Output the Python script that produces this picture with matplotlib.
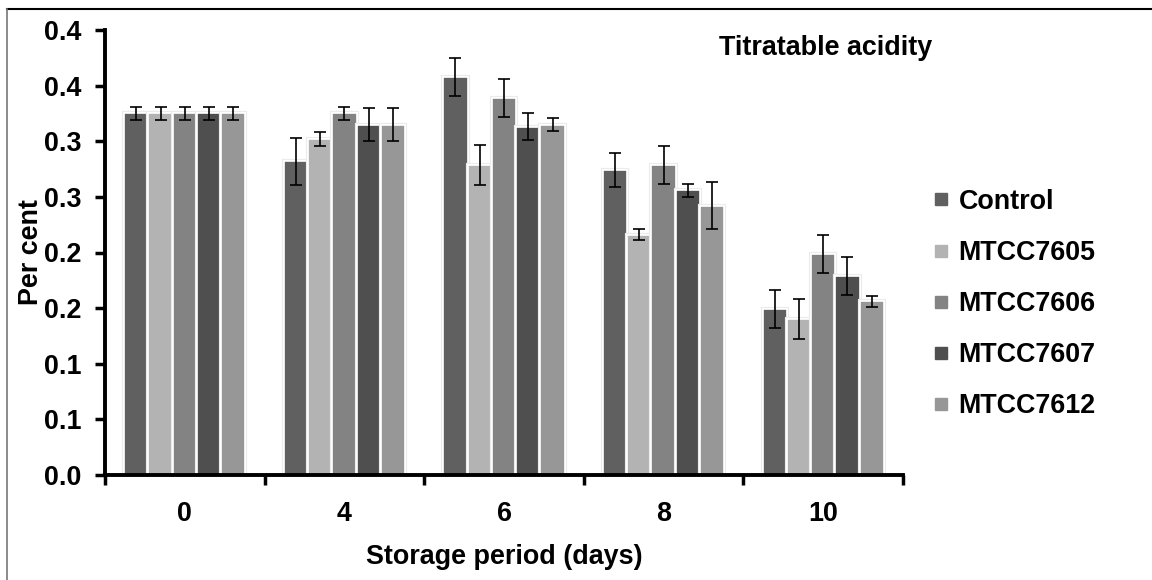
import matplotlib
matplotlib.use("Agg")
import matplotlib.pyplot as plt
import matplotlib.patheffects as pe
from matplotlib import font_manager
from matplotlib.lines import Line2D
import numpy as np

days = ["0", "4", "6", "8", "10"]
series = ["Control", "MTCC7605", "MTCC7606", "MTCC7607", "MTCC7612"]
control = [0.325, 0.282, 0.358, 0.274, 0.149]
mtcc7605 = [0.325, 0.302, 0.279, 0.216, 0.140]
mtcc7606 = [0.325, 0.325, 0.339, 0.279, 0.199]
mtcc7607 = [0.325, 0.315, 0.313, 0.256, 0.179]
mtcc7612 = [0.325, 0.315, 0.315, 0.242, 0.156]
err_control = [0.006, 0.021, 0.017, 0.015, 0.017]
err_7605 = [0.006, 0.006, 0.018, 0.005, 0.018]
err_7606 = [0.006, 0.006, 0.017, 0.017, 0.017]
err_7607 = [0.006, 0.015, 0.012, 0.006, 0.017]
err_7612 = [0.006, 0.015, 0.006, 0.021, 0.005]
yticks = [0.0, 0.05, 0.10, 0.15, 0.20, 0.25, 0.30, 0.35, 0.40]
ytick_labels = ["0.0", "0.1", "0.1", "0.2", "0.2", "0.3", "0.3", "0.4", "0.4"]

colors = ["#606060", "#b3b3b3", "#838383", "#4f4f4f", "#979797"]

# narrow font if we have it, else plain Liberation Sans a bit smaller
names = {f.name for f in font_manager.fontManager.ttflist}
if "Liberation Sans Narrow" in names:
    fam, k = "Liberation Sans Narrow", 1.0
else:
    fam, k = "Liberation Sans", 0.88
plt.rcParams["font.family"] = [fam, "DejaVu Sans"]
plt.rcParams["font.weight"] = "bold"

fig = plt.figure(figsize=(11.52, 5.8), dpi=100)
ax = fig.add_axes([105/1152, 105/580, 798/1152, 445/580])

values = [control, mtcc7605, mtcc7606, mtcc7607, mtcc7612]
errors = [err_control, err_7605, err_7606, err_7607, err_7612]
x = np.arange(len(days))
w = 0.152
for i, (vals, errs) in enumerate(zip(values, errors)):
    bars = ax.bar(x + (i - 2) * w, vals, w, color=colors[i], edgecolor="white",
                  linewidth=1.2, zorder=2)
    for b in bars:
        b.set_path_effects([pe.withStroke(linewidth=3, foreground="#ebebeb"), pe.Normal()])
    ax.errorbar(x + (i - 2) * w, vals, yerr=errs, fmt="none", ecolor="black",
                elinewidth=1.2, capsize=4.5, capthick=1.2, zorder=3)

ax.set_xlim(-0.5, len(days) - 0.5)
ax.set_ylim(0, 0.40)
ax.set_yticks(yticks)
ax.set_yticklabels(ytick_labels)
ax.set_xticks(np.arange(-0.5, len(days), 1.0))
ax.set_xticklabels([])
ax.set_xticks(x, minor=True)
ax.set_xticklabels(days, minor=True)
ax.tick_params(axis="x", which="minor", length=0, pad=19, labelsize=22 * k)
ax.tick_params(axis="x", which="major", length=7, width=2.5, direction="out")
ax.tick_params(axis="y", length=7, width=2.5, direction="out", labelsize=22 * k, pad=10)

for s in ["top", "right"]:
    ax.spines[s].set_visible(False)
for s in ["left", "bottom"]:
    ax.spines[s].set_linewidth(2.8)

ax.set_xlabel("Storage period (days)", fontsize=22 * k, fontweight="bold", labelpad=12)
ax.set_ylabel("Per cent", fontsize=22 * k, fontweight="bold", labelpad=0)

fig.text(826/1152, 1 - 48/580, "Titratable acidity", ha="center", va="center",
         fontsize=22 * k, fontweight="bold")

handles = [Line2D([0], [0], marker="s", linestyle="none", markersize=9,
                  markerfacecolor=c, markeredgecolor=c) for c in colors]
fig.legend(handles, series, loc="center left", bbox_to_anchor=(0.810, 0.476),
           frameon=False, fontsize=22 * k, handlelength=0.6, handletextpad=0.35,
           labelspacing=0.93, borderpad=0, borderaxespad=0)

# outer frame of the source picture (top and left edges only)
fig.add_artist(Line2D([7/1152, 1], [1 - 9/580, 1 - 9/580], color="black", linewidth=1.5,
                      transform=fig.transFigure))
fig.add_artist(Line2D([7/1152, 7/1152], [0, 1 - 9/580], color="#777777", linewidth=1.2,
                      transform=fig.transFigure))

fig.savefig("out.png", dpi=100)
